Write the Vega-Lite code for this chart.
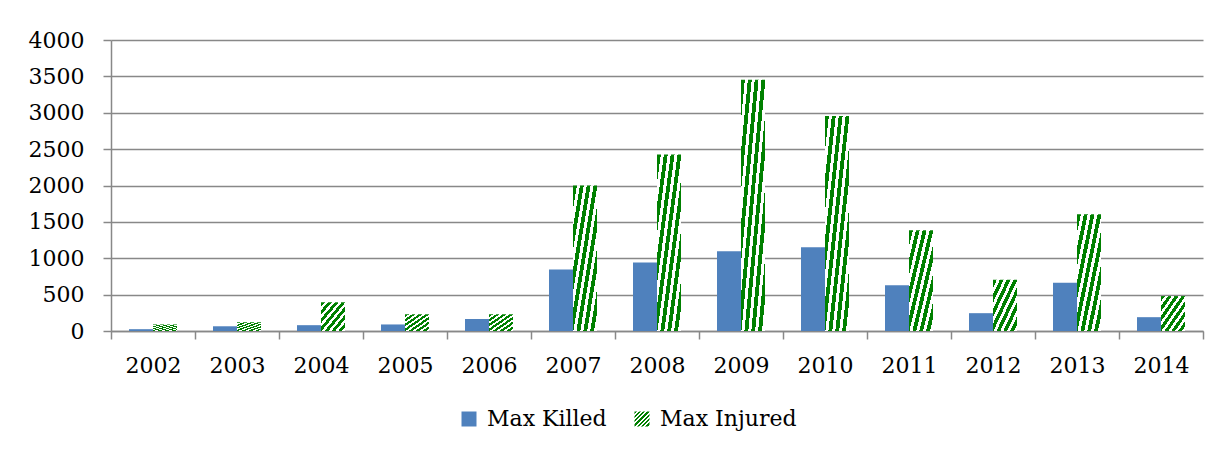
{
  "$schema": "https://vega.github.io/schema/vega-lite/v6.json",
  "width": 1092,
  "height": 291,
  "autosize": {"type": "none"},
  "padding": {"left": 111, "top": 40, "right": 19, "bottom": 122},
  "background": "white",
  "config": {"font": "DejaVu Serif", "view": {"stroke": null}},
  "data": {
    "values": [
      {"year": "2002", "series": "Max Killed", "value": 25},
      {"year": "2002", "series": "Max Injured", "value": 90},
      {"year": "2003", "series": "Max Killed", "value": 65},
      {"year": "2003", "series": "Max Injured", "value": 120},
      {"year": "2004", "series": "Max Killed", "value": 80},
      {"year": "2004", "series": "Max Injured", "value": 395},
      {"year": "2005", "series": "Max Killed", "value": 90},
      {"year": "2005", "series": "Max Injured", "value": 230},
      {"year": "2006", "series": "Max Killed", "value": 165},
      {"year": "2006", "series": "Max Injured", "value": 230},
      {"year": "2007", "series": "Max Killed", "value": 845},
      {"year": "2007", "series": "Max Injured", "value": 2000},
      {"year": "2008", "series": "Max Killed", "value": 940},
      {"year": "2008", "series": "Max Injured", "value": 2425},
      {"year": "2009", "series": "Max Killed", "value": 1095},
      {"year": "2009", "series": "Max Injured", "value": 3455},
      {"year": "2010", "series": "Max Killed", "value": 1150},
      {"year": "2010", "series": "Max Injured", "value": 2955},
      {"year": "2011", "series": "Max Killed", "value": 630},
      {"year": "2011", "series": "Max Injured", "value": 1385},
      {"year": "2012", "series": "Max Killed", "value": 245},
      {"year": "2012", "series": "Max Injured", "value": 705},
      {"year": "2013", "series": "Max Killed", "value": 663},
      {"year": "2013", "series": "Max Injured", "value": 1605},
      {"year": "2014", "series": "Max Killed", "value": 190},
      {"year": "2014", "series": "Max Injured", "value": 480}
    ]
  },
  "mark": {"type": "bar"},
  "encoding": {
    "x": {
      "field": "year",
      "type": "nominal",
      "scale": {"paddingInner": 0, "paddingOuter": 0},
      "axis": {
        "title": null,
        "labelAngle": 0,
        "tickBand": "extent",
        "domainColor": "#888888",
        "domainWidth": 1.5,
        "tickColor": "#888888",
        "tickWidth": 1.5,
        "tickSize": 8,
        "labelFont": "DejaVu Serif",
        "labelFontSize": 22,
        "labelColor": "black",
        "labelPadding": 16
      }
    },
    "xOffset": {
      "field": "series",
      "type": "nominal",
      "scale": {"domain": ["Max Killed", "Max Injured"], "paddingInner": 0, "paddingOuter": 0.75}
    },
    "y": {
      "field": "value",
      "type": "quantitative",
      "scale": {"domain": [0, 4000], "nice": false},
      "axis": {
        "title": null,
        "values": [0, 500, 1000, 1500, 2000, 2500, 3000, 3500, 4000],
        "format": "d",
        "grid": true,
        "gridColor": "#888888",
        "gridWidth": 1.5,
        "domainColor": "#888888",
        "domainWidth": 1.5,
        "tickColor": "#888888",
        "tickWidth": 1.5,
        "tickSize": 8,
        "labelFont": "DejaVu Serif",
        "labelFontSize": 22,
        "labelColor": "black",
        "labelPadding": 19
      }
    },
    "fill": {
      "field": "series",
      "type": "nominal",
      "scale": {
        "domain": ["Max Killed", "Max Injured"],
        "range": [
          "#4F81BD",
          {"expr": "{gradient: 'linear', x1: 0, y1: 0, x2: 1, y2: 1, stops: [{offset: 0, color: '#008000'}, {offset: 0.08, color: '#008000'}, {offset: 0.08, color: '#ffffff'}, {offset: 0.1429, color: '#ffffff'}, {offset: 0.1429, color: '#008000'}, {offset: 0.2229, color: '#008000'}, {offset: 0.2229, color: '#ffffff'}, {offset: 0.2857, color: '#ffffff'}, {offset: 0.2857, color: '#008000'}, {offset: 0.3657, color: '#008000'}, {offset: 0.3657, color: '#ffffff'}, {offset: 0.4286, color: '#ffffff'}, {offset: 0.4286, color: '#008000'}, {offset: 0.5086, color: '#008000'}, {offset: 0.5086, color: '#ffffff'}, {offset: 0.5714, color: '#ffffff'}, {offset: 0.5714, color: '#008000'}, {offset: 0.6514, color: '#008000'}, {offset: 0.6514, color: '#ffffff'}, {offset: 0.7143, color: '#ffffff'}, {offset: 0.7143, color: '#008000'}, {offset: 0.7943, color: '#008000'}, {offset: 0.7943, color: '#ffffff'}, {offset: 0.8571, color: '#ffffff'}, {offset: 0.8571, color: '#008000'}, {offset: 0.9371, color: '#008000'}, {offset: 0.9371, color: '#ffffff'}, {offset: 1, color: '#ffffff'}]}"}
        ]
      },
      "legend": {
        "title": null,
        "orient": "none",
        "legendX": 347,
        "legendY": 368,
        "direction": "horizontal",
        "symbolType": "square",
        "symbolSize": 225,
        "symbolStrokeWidth": 0,
        "labelFont": "DejaVu Serif",
        "labelFontSize": 22,
        "labelColor": "black",
        "labelOffset": 7,
        "columnPadding": 24
      }
    }
  }
}
